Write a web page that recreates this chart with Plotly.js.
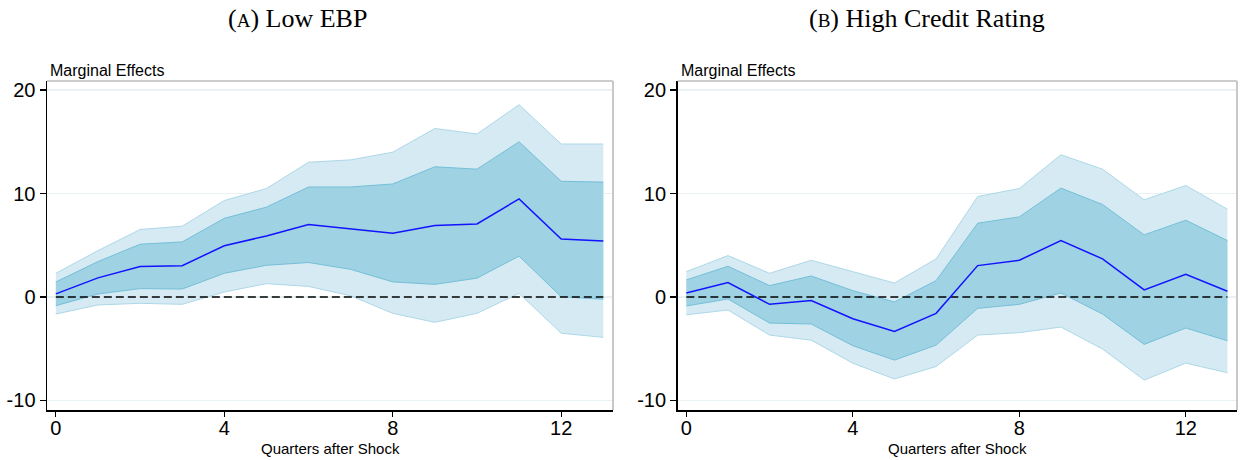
<!DOCTYPE html>
<html><head><meta charset="utf-8">
<script src="https://cdn.plot.ly/plotly-3.0.1.min.js"></script>
<style>html,body{margin:0;padding:0;background:#fff}#chart{width:1247px;height:460px}</style>
</head><body><div id="chart"></div>
<script>
// ---- data ----
const quarters = [0,1,2,3,4,5,6,7,8,9,10,11,12,13];
const xTicks = [0,4,8,12];
const yTicks = [-10,0,10,20];

// Panel A: Low EBP
const ebpMean  = [0.3, 1.85, 2.95, 3.03, 4.95, 5.9, 7.0, 6.62, 6.17, 6.9, 7.06, 9.48, 5.6, 5.42];
const ebpHi68  = [1.45, 3.42, 5.1, 5.32, 7.6, 8.68, 10.63, 10.63, 10.92, 12.58, 12.35, 15.0, 11.18, 11.1];
const ebpLo68  = [-0.84, 0.29, 0.81, 0.77, 2.29, 3.06, 3.33, 2.67, 1.46, 1.22, 1.82, 3.95, 0.02, -0.22];
const ebpHi90  = [2.29, 4.48, 6.52, 6.84, 9.32, 10.48, 13.02, 13.25, 13.99, 16.28, 15.75, 18.58, 14.78, 14.78];
const ebpLo90  = [-1.65, -0.77, -0.61, -0.71, 0.48, 1.29, 1.02, 0.12, -1.58, -2.45, -1.58, 0.35, -3.5, -3.9];

// Panel B: High Credit Rating
const hcrMean  = [0.39, 1.39, -0.71, -0.35, -2.1, -3.32, -1.58, 3.03, 3.55, 5.45, 3.68, 0.68, 2.19, 0.55];
const hcrHi68  = [1.65, 2.97, 1.1, 2.03, 0.61, -0.48, 1.58, 7.13, 7.74, 10.52, 8.94, 6.0, 7.42, 5.45];
const hcrLo68  = [-0.87, -0.19, -2.52, -2.61, -4.71, -6.1, -4.65, -1.1, -0.71, 0.39, -1.65, -4.58, -3.0, -4.23];
const hcrHi90  = [2.45, 4.0, 2.29, 3.55, 2.45, 1.35, 3.68, 9.71, 10.48, 13.74, 12.35, 9.39, 10.77, 8.48];
const hcrLo90  = [-1.72, -1.26, -3.68, -4.17, -6.4, -7.92, -6.72, -3.68, -3.45, -2.9, -5.03, -8.03, -6.39, -7.32];

const panelTitles = ['(<span style="font-size:19px">A</span>) Low EBP', '(<span style="font-size:19px">B</span>) High Credit Rating'];
const yLabel = 'Marginal Effects';
const xLabel = 'Quarters after Shock';

// ---- styles ----
const outerFill = '#d5eaf2', outerEdge = '#acd8e8';
const innerFill = '#9fd2e3', innerEdge = '#74bfd8';
const meanColor = '#1212ff';

function panel(xa, ya, lo90, hi90, lo68, hi68, mean) {
  const base = {x: quarters, xaxis: xa, yaxis: ya, mode: 'lines', hoverinfo: 'skip', showlegend: false};
  return [
    Object.assign({}, base, {y: lo90, line: {color: outerEdge, width: 1}}),
    Object.assign({}, base, {y: hi90, line: {color: outerEdge, width: 1}, fill: 'tonexty', fillcolor: outerFill}),
    Object.assign({}, base, {y: lo68, line: {color: innerEdge, width: 1}}),
    Object.assign({}, base, {y: hi68, line: {color: innerEdge, width: 1}, fill: 'tonexty', fillcolor: innerFill}),
    Object.assign({}, base, {y: quarters.map(() => 0), line: {color: '#000', width: 1.5, dash: '8px,4px'}}),
    Object.assign({}, base, {y: mean, line: {color: meanColor, width: 1.5}})
  ];
}

const data = [].concat(
  panel('x', 'y', ebpLo90, ebpHi90, ebpLo68, ebpHi68, ebpMean),
  panel('x2', 'y2', hcrLo90, hcrHi90, hcrLo68, hcrHi68, hcrMean)
);

const W = 1247, H = 460;
const tickFont = {family: '"Liberation Sans", Arial, sans-serif', size: 20, color: '#000'};
function xAxis(domain, anchor) {
  return {domain: domain, anchor: anchor, range: [-0.21, 13.23], tickvals: xTicks, ticktext: xTicks.map(String),
    ticks: 'outside', ticklen: 5, tickwidth: 1.2, ticklabelstandoff: -6,
    tickcolor: '#000', showline: true, linecolor: '#000', linewidth: 1.5, showgrid: false, zeroline: false,
    tickfont: tickFont, fixedrange: true};
}
function yAxis(domain, anchor) {
  return {domain: domain, anchor: anchor, range: [-10.92, 20.87], tickvals: yTicks, ticktext: yTicks.map(String),
    ticks: 'outside', ticklen: 6, tickwidth: 1.2,
    tickcolor: '#000', showline: true, linecolor: '#000', linewidth: 1.5, showgrid: true, gridcolor: '#e8f1f3', gridwidth: 1.5,
    zeroline: false, tickfont: tickFont, fixedrange: true};
}
const yDom = [1 - 410 / H, 1 - 81 / H];
const lab = {family: '"Liberation Sans", Arial, sans-serif', color: '#000'};
const titleFont = {family: '"Liberation Serif", "Times New Roman", serif', size: 26, color: '#000'};

function border(xr, yr) {
  return [
    {type: 'line', xref: xr + ' domain', yref: yr + ' domain', x0: 0, x1: 1, y0: 1, y1: 1, line: {color: '#bdbdbd', width: 1.5}},
    {type: 'line', xref: xr + ' domain', yref: yr + ' domain', x0: 1, x1: 1, y0: 0, y1: 1, line: {color: '#c8c8c8', width: 2}}
  ];
}

const layout = {
  width: W, height: H, margin: {l: 0, r: 0, t: 0, b: 0},
  paper_bgcolor: '#fff', plot_bgcolor: '#fff', showlegend: false,
  xaxis: xAxis([47 / W, 613 / W], 'y'),
  yaxis: yAxis(yDom, 'x'),
  xaxis2: xAxis([677.6 / W, 1237 / W], 'y2'),
  yaxis2: yAxis(yDom, 'x2'),
  shapes: [].concat(border('x', 'y'), border('x2', 'y2')),
  annotations: [
    {text: panelTitles[0], xref: 'paper', yref: 'paper', x: 297 / W, y: 1 - 18 / H, xanchor: 'center', yanchor: 'middle', showarrow: false, font: titleFont},
    {text: panelTitles[1], xref: 'paper', yref: 'paper', x: 927 / W, y: 1 - 18 / H, xanchor: 'center', yanchor: 'middle', showarrow: false, font: titleFont},
    {text: yLabel, xref: 'paper', yref: 'paper', x: 48 / W, y: 1 - 70 / H, xanchor: 'left', yanchor: 'middle', showarrow: false, font: Object.assign({size: 16}, lab)},
    {text: yLabel, xref: 'paper', yref: 'paper', x: 679 / W, y: 1 - 70 / H, xanchor: 'left', yanchor: 'middle', showarrow: false, font: Object.assign({size: 16}, lab)},
    {text: xLabel, xref: 'paper', yref: 'paper', x: 330 / W, y: 1 - 448 / H, xanchor: 'center', yanchor: 'middle', showarrow: false, font: Object.assign({size: 15}, lab)},
    {text: xLabel, xref: 'paper', yref: 'paper', x: 957.3 / W, y: 1 - 448 / H, xanchor: 'center', yanchor: 'middle', showarrow: false, font: Object.assign({size: 15}, lab)}
  ]
};

Plotly.newPlot('chart', data, layout, {staticPlot: true, displayModeBar: false});
</script>
</body></html>
